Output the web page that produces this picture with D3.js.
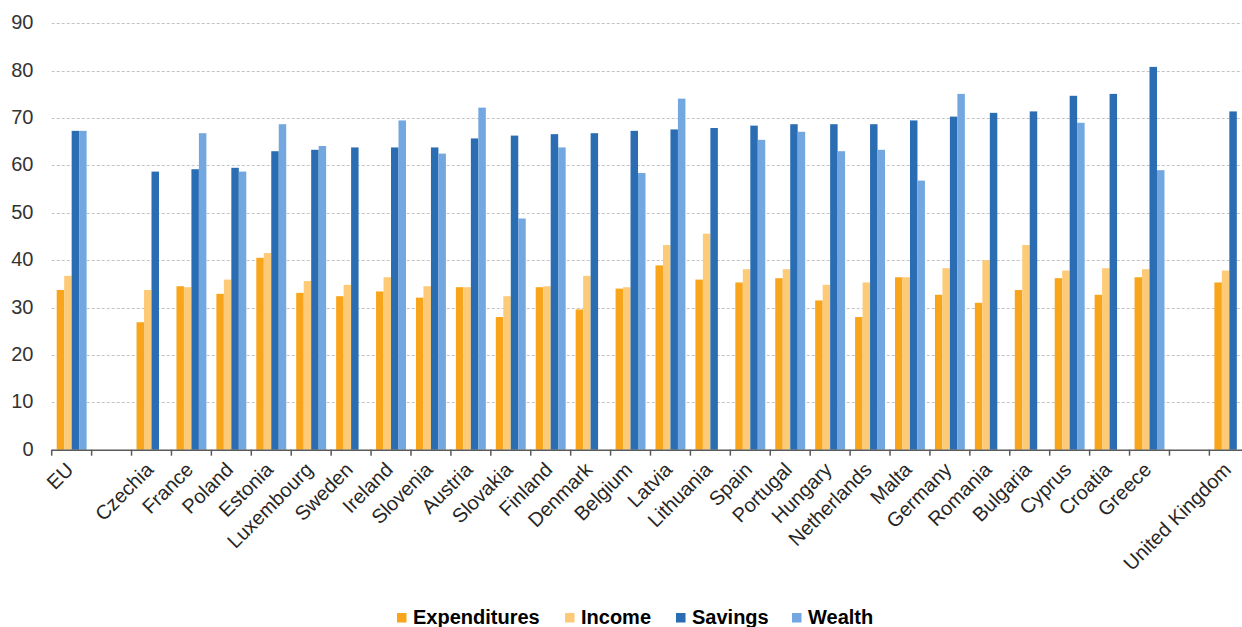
<!DOCTYPE html>
<html>
<head>
<meta charset="utf-8">
<script src="https://cdn.jsdelivr.net/npm/d3@7"></script>
<style>
    body { margin: 0; background: #ffffff; }
    svg { display: block; font-family: 'Liberation Sans', Arial, sans-serif; }
</style>
</head>
<body>
<svg id="chart" width="1242" height="627"></svg>
<script>
const countries = ["EU", "", "Czechia", "France", "Poland", "Estonia", "Luxembourg", "Sweden", "Ireland",
    "Slovenia", "Austria", "Slovakia", "Finland", "Denmark", "Belgium", "Latvia", "Lithuania", "Spain",
    "Portugal", "Hungary", "Netherlands", "Malta", "Germany", "Romania", "Bulgaria", "Cyprus", "Croatia",
    "Greece", "", "United Kingdom"];

const expenditures = [33.7, null, 26.9, 34.5, 32.9, 40.5, 33.1, 32.4, 33.4, 32.1, 34.3, 28.0, 34.3, 29.6, 34.0,
    38.9, 35.9, 35.3, 36.2, 31.5, 28.0, 36.4, 32.7, 31.0, 33.7, 36.2, 32.7, 36.4, null, 35.3];
const income = [36.7, null, 33.7, 34.3, 35.9, 41.5, 35.6, 34.8, 36.4, 34.5, 34.3, 32.4, 34.5, 36.7, 34.3,
    43.2, 45.6, 38.1, 38.1, 34.8, 35.3, 36.4, 38.3, 40.0, 43.2, 37.8, 38.3, 38.1, null, 37.8];
const savings = [67.3, null, 58.7, 59.2, 59.5, 63.0, 63.3, 63.8, 63.8, 63.8, 65.7, 66.3, 66.6, 66.8, 67.3,
    67.6, 67.9, 68.4, 68.7, 68.7, 68.7, 69.5, 70.3, 71.1, 71.4, 74.7, 75.1, 80.8, null, 71.4];
const wealth = [67.3, null, null, 66.8, 58.7, 68.7, 64.1, null, 69.5, 62.5, 72.2, 48.8, 63.8, null, 58.4,
    74.1, null, 65.4, 67.1, 63.0, 63.3, 56.8, 75.1, null, null, 69.0, null, 59.0, null, null];

const seriesNames = ["Expenditures", "Income", "Savings", "Wealth"];
const seriesColors = ["#f8a51c", "#fdca77", "#2a6db3", "#72a8df"];
const yTicks = [0, 10, 20, 30, 40, 50, 60, 70, 80, 90];

const series = [expenditures, income, savings, wealth];

const svg = d3.select('#chart');

// plot area runs a bit past the right edge, as in the original (UK slot is cut)
const plotLeft = 51.7, plotRight = 1249.3, plotTop = 23.3, plotBottom = 449.7;

const x0 = d3.scaleBand()
    .domain(countries.map((d, i) => i))
    .range([plotLeft, plotRight]);

const x1 = d3.scaleBand()
    .domain(seriesNames)
    .range([5, x0.bandwidth() - 5]);

const y = d3.scaleLinear()
    .domain([0, 90])
    .range([plotBottom, plotTop]);

// gridlines
svg.append('g')
    .selectAll('line')
    .data(yTicks.filter(t => t > 0))
    .enter().append('line')
    .attr('x1', plotLeft).attr('x2', plotRight)
    .attr('y1', d => Math.round(y(d)) + 0.5).attr('y2', d => Math.round(y(d)) + 0.5)
    .style('stroke', '#c4c4c4')
    .style('stroke-width', 1)
    .style('stroke-dasharray', '3,2');

// y labels
svg.append('g')
    .selectAll('text')
    .data(yTicks)
    .enter().append('text')
    .attr('x', 33.5)
    .attr('y', d => y(d) - 1)
    .attr('text-anchor', 'end')
    .attr('dominant-baseline', 'central')
    .style('font-size', '20px')
    .style('fill', '#333333')
    .text(d => d);

// bars
const groups = svg.append('g')
    .selectAll('g.group')
    .data(countries.map((c, i) => i))
    .enter().append('g')
    .attr('class', 'group')
    .attr('transform', i => 'translate(' + x0(i) + ',0)');

groups.selectAll('rect')
    .data(i => seriesNames.map((name, k) => ({ name: name, k: k, value: series[k][i] })).filter(d => d.value != null))
    .enter().append('rect')
    .attr('x', d => x1(d.name))
    .attr('width', x1.bandwidth())
    .attr('y', d => y(d.value))
    .attr('height', d => y(0) - y(d.value))
    .attr('fill', d => seriesColors[d.k]);

// x axis line and ticks
const axis = svg.append('g');
axis.append('line')
    .attr('x1', plotLeft).attr('x2', plotRight)
    .attr('y1', plotBottom + 0.5).attr('y2', plotBottom + 0.5)
    .style('stroke', '#595959')
    .style('stroke-width', 1.5);

axis.selectAll('line.tick')
    .data(countries.map((c, i) => i))
    .enter().append('line')
    .attr('class', 'tick')
    .attr('x1', i => x0(i)).attr('x2', i => x0(i))
    .attr('y1', plotBottom).attr('y2', plotBottom + 6)
    .style('stroke', '#595959')
    .style('stroke-width', 1.5);

axis.selectAll('text')
    .data(countries.map((c, i) => i).filter(i => countries[i] !== ''))
    .enter().append('text')
    .attr('transform', i => 'translate(' + (x0(i) + x0.bandwidth() / 2 + 3) + ',471) rotate(-45)')
    .attr('text-anchor', 'end')
    .style('font-size', '20px')
    .style('fill', '#262626')
    .text(i => countries[i]);

// legend
const legendX = [397, 565, 676, 792];
const legend = svg.append('g')
    .selectAll('g')
    .data(seriesNames)
    .enter().append('g')
    .attr('transform', (d, k) => 'translate(' + legendX[k] + ',0)');

legend.append('rect')
    .attr('x', 0).attr('y', 613)
    .attr('width', 9.5).attr('height', 9.5)
    .attr('fill', (d, k) => seriesColors[k]);

legend.append('text')
    .attr('x', 16)
    .attr('y', 624)
    .style('font-size', '20px')
    .style('font-weight', 'bold')
    .style('fill', '#000000')
    .text(d => d);
</script>
</body>
</html>
